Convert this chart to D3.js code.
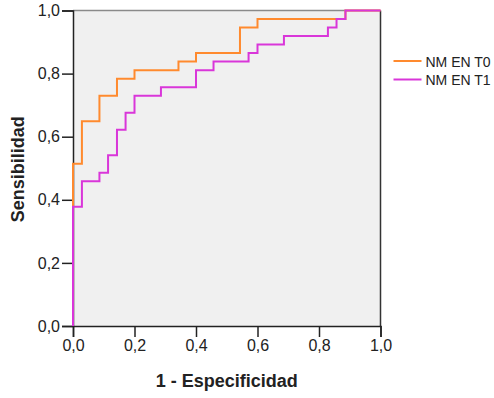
<!DOCTYPE html>
<html>
<head>
<meta charset="utf-8">
<script src="https://cdn.jsdelivr.net/npm/d3@7"></script>
<style>
  body { margin: 0; background: #fff; }
  text { font-family: "Liberation Sans", Arial, sans-serif; fill: #222; }
</style>
</head>
<body>
<svg id="chart" width="494" height="398"></svg>
<script>
// ROC points (1 - especificidad, sensibilidad)
const fprT0 = [0, 0, 0.029, 0.086, 0.143, 0.200, 0.343, 0.400, 0.543, 0.600, 0.886, 1];
const tprT0 = [0, 0.514, 0.649, 0.730, 0.784, 0.811, 0.838, 0.865, 0.946, 0.973, 1, 1];

const fprT1 = [0, 0, 0.029, 0.086, 0.114, 0.143, 0.171, 0.200, 0.286, 0.400, 0.457, 0.571, 0.600, 0.686, 0.829, 0.857, 0.886, 1];
const tprT1 = [0, 0.378, 0.459, 0.486, 0.541, 0.622, 0.676, 0.730, 0.757, 0.811, 0.838, 0.865, 0.892, 0.919, 0.946, 0.973, 1, 1];

const seriesNames = ["NM EN T0", "NM EN T1"];
const seriesColors = ["#ff8a2e", "#d936d9"];
const ticks = [0, 0.2, 0.4, 0.6, 0.8, 1.0];

const margin = {top: 10.5, right: 113.5, bottom: 72, left: 73};
const width = 494 - margin.left - margin.right;
const height = 398 - margin.top - margin.bottom;

const svg = d3.select("#chart")
  .append("g")
  .attr("transform", "translate(" + margin.left + "," + margin.top + ")");

const x = d3.scaleLinear().domain([0, 1]).range([0, width]);
const y = d3.scaleLinear().domain([0, 1]).range([height, 0]);
const fmt = d => d3.format(".1f")(d).replace(".", ",");

// plot background
svg.append("rect")
  .attr("width", width).attr("height", height)
  .attr("fill", "#f0f0f0");

// top and right frame
svg.append("line").attr("x1", 0).attr("x2", width).attr("y1", 0).attr("y2", 0)
  .attr("stroke", "#8a8a8a").attr("stroke-width", 1.5);
svg.append("line").attr("x1", width).attr("x2", width).attr("y1", 0).attr("y2", height)
  .attr("stroke", "#333").attr("stroke-width", 1.5);

const xAxis = svg.append("g")
  .attr("transform", "translate(0," + height + ")")
  .call(d3.axisBottom(x).tickValues(ticks).tickFormat(fmt).tickSize(11).tickPadding(3));

const yAxis = svg.append("g")
  .call(d3.axisLeft(y).tickValues(ticks).tickFormat(fmt).tickSize(11).tickPadding(2));

[xAxis, yAxis].forEach(a => {
  a.select(".domain").attr("stroke", "#222").attr("stroke-width", 1.5);
  a.selectAll(".tick line").attr("stroke", "#222").attr("stroke-width", 1.5);
  a.selectAll(".tick text")
    .style("font-family", '"Liberation Sans", Arial, sans-serif')
    .style("font-size", "16px").attr("fill", "#333");
});

// curves
const line = d3.line().curve(d3.curveStepAfter)
  .x(d => x(d[0])).y(d => y(d[1]));

const curves = [d3.zip(fprT0, tprT0), d3.zip(fprT1, tprT1)];
curves.forEach((pts, i) => {
  svg.append("path")
    .datum(pts)
    .attr("d", line)
    .attr("fill", "none")
    .attr("stroke", seriesColors[i])
    .attr("stroke-width", 2);
});

// axis titles
svg.append("text")
  .attr("x", width / 2).attr("y", height + 61)
  .attr("text-anchor", "middle")
  .style("font-size", "18px").style("font-weight", "bold")
  .text("1 - Especificidad");

svg.append("text")
  .attr("transform", "translate(-49," + (height / 2 + 1) + ") rotate(-90)")
  .attr("text-anchor", "middle")
  .style("font-size", "18px").style("font-weight", "bold")
  .text("Sensibilidad");

// legend
const legend = svg.append("g")
  .attr("transform", "translate(" + (width + 13) + ",50.5)");
seriesNames.forEach((name, i) => {
  const g = legend.append("g").attr("transform", "translate(0," + i * 18.5 + ")");
  g.append("line").attr("x1", 0).attr("x2", 28)
    .attr("stroke", seriesColors[i]).attr("stroke-width", 2);
  g.append("text").attr("x", 32).attr("y", 5.5)
    .style("font-size", "14px")
    .text(name);
});
</script>
</body>
</html>
